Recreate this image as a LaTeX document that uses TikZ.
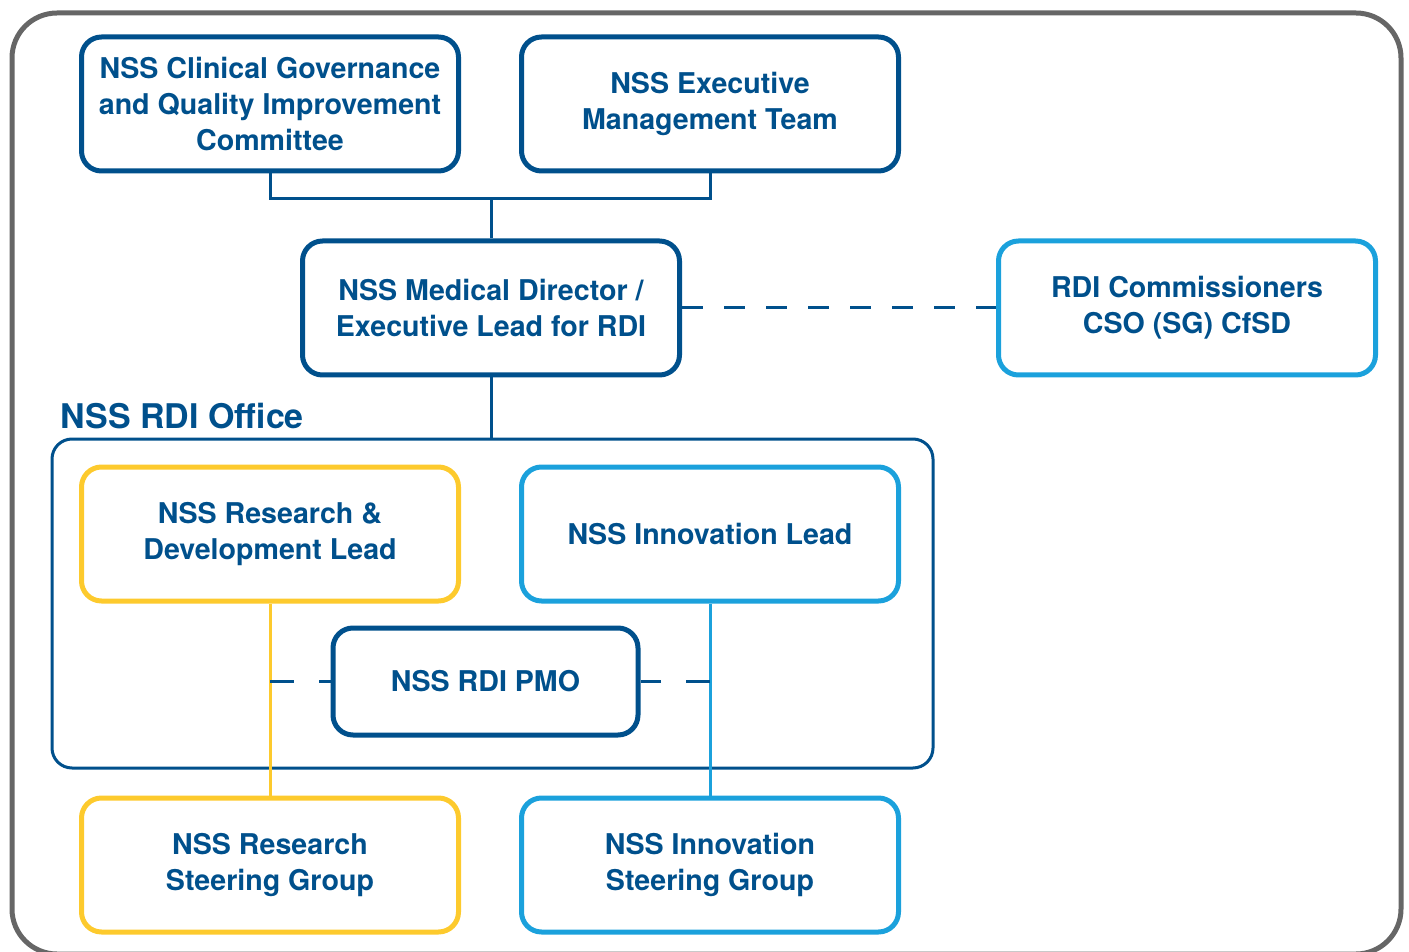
\documentclass[tikz,border=0pt]{standalone}
\usepackage{fontspec}
\setmainfont{TeX Gyre Heros}
\usepackage{tikz}
\usetikzlibrary{positioning}
\definecolor{nssdark}{RGB}{0,80,140}
\definecolor{nsslight}{RGB}{27,161,220}
\definecolor{nssyellow}{RGB}{253,202,45}
\definecolor{framegray}{RGB}{102,102,102}
\tikzstyle{unit} = [rectangle, rounded corners=10pt, minimum width=188.5pt, minimum height=67pt, text centered, align=center, line width=2.5pt, text=nssdark, font=\fontsize{14.3}{18}\selectfont\bfseries]
\tikzstyle{darkbox} = [unit, draw=nssdark]
\tikzstyle{lightbox} = [unit, draw=nsslight]
\tikzstyle{yellowbox} = [unit, draw=nssyellow]
\tikzstyle{officebox} = [rectangle, rounded corners=10pt, minimum width=440.5pt, minimum height=164.5pt, draw=nssdark, line width=1.5pt]
\tikzstyle{link} = [line width=1.5pt, draw=nssdark]
\tikzstyle{dashlink} = [link, dash pattern=on 10.5pt off 10.5pt]

\begin{document}
\begin{tikzpicture}[x=0.5pt, y=-0.5pt]
\useasboundingbox (0,0) rectangle (1409,952);
\draw [framegray, line width=2.5pt, rounded corners=22.5pt] (12,13) rectangle (1401,954);

\node (cgq) [darkbox] at (270,104) {NSS Clinical Governance\\and Quality Improvement\\Committee};
\node (emt) [darkbox, right=29pt of cgq] {NSS Executive\\Management Team};
\node (md) [darkbox] at (491,308) {NSS Medical Director /\\Executive Lead for RDI};
\node (rdic) [lightbox, right=157pt of md] {RDI Commissioners\\CSO (SG) CfSD};

% RDI office
\node (office) [officebox] at (492.5,603.5) {};
\node (officelbl) [anchor=base west, inner sep=0pt, text=nssdark, font=\fontsize{17}{20}\selectfont\bfseries, xshift=5pt, yshift=4.5pt] at (office.north west) {NSS RDI Office};
\node (rdl) [yellowbox] at (270,534) {NSS Research \&\\Development Lead};
\node (inl) [lightbox, right=29pt of rdl] {NSS Innovation Lead};
\node (pmo) [darkbox, minimum width=152.5pt, minimum height=53.5pt] at (485.5,681.5) {NSS RDI PMO};

\node (rsg) [yellowbox, below=96pt of rdl] {NSS Research\\Steering Group};
\node (isg) [lightbox, right=29pt of rsg] {NSS Innovation\\Steering Group};

\coordinate (join) at (491,199);
\draw [link] (cgq.south) |- (join) -| (emt.south);
\draw [link] (join) -- (md.north);
\draw [link] (md.south) -- (md.south |- office.north);
\draw [dashlink] (md.east) -- (rdic.west);

\draw [line width=1.5pt, nssyellow] (rdl.south) -- (rsg.north);
\draw [line width=1.5pt, nsslight] (inl.south) -- (isg.north);
\draw [link, dash pattern=on 12pt off 12.5pt] (pmo.west -| rdl.south) -- (pmo.west);
\draw [link, dash pattern=on 12pt off 12.5pt] (pmo.east -| inl.south) -- (pmo.east);
\end{tikzpicture}
\end{document}
